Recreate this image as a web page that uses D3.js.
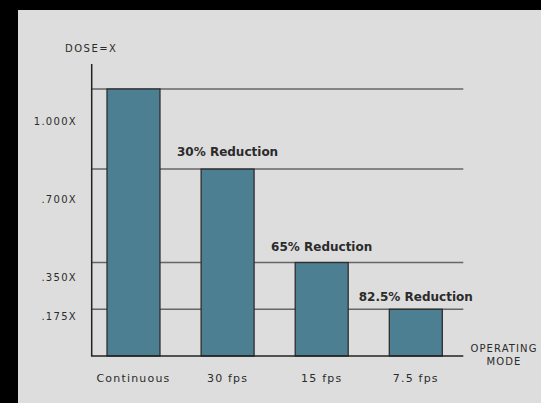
<!DOCTYPE html>
<html>
<head>
<meta charset="utf-8">
<script src="https://cdn.jsdelivr.net/npm/d3@7"></script>
<style>
  html, body { margin: 0; padding: 0; background: #000; }
  svg { display: block; }
</style>
</head>
<body>
<svg id="chart" width="541" height="403"></svg>
<script>
// ---- data ----
const categories = ["Continuous", "30 fps", "15 fps", "7.5 fps"];
const doseValues = [1.0, 0.7, 0.35, 0.175];
const reductionLabels = ["", "30% Reduction", "65% Reduction", "82.5% Reduction"];
const tickValues = [1.0, 0.7, 0.35, 0.175];
const tickLabels = ["1.000X", ".700X", ".350X", ".175X"];
const yAxisTitle = "DOSE=X";
const xAxisTitle = ["OPERATING", "MODE"];

// ---- layout ----
const W = 541, H = 403;
const svg = d3.select("#chart");
svg.append("rect").attr("x", 0).attr("y", 0).attr("width", W).attr("height", H).attr("fill", "#000");
svg.append("rect").attr("x", 18).attr("y", 10).attr("width", W - 18).attr("height", H - 10).attr("fill", "#dddddd");

const axisX = 91.7, plotRight = 463.3;
const y = d3.scaleLinear().domain([0, 1]).range([356, 89]);
const x = d3.scaleBand().domain(categories).range([107, 442.3]).paddingInner(0.437).paddingOuter(0);

const font = "'DejaVu Sans', 'Open Sans', sans-serif";
const textCol = "#2b2b2b";

// gridlines
svg.append("g").selectAll("line").data(tickValues).join("line")
  .attr("x1", axisX).attr("x2", plotRight)
  .attr("y1", d => y(d)).attr("y2", d => y(d))
  .attr("stroke", "#666").attr("stroke-width", 1.5);

// bars
svg.append("g").selectAll("rect").data(categories).join("rect")
  .attr("x", d => x(d))
  .attr("y", (d, i) => y(doseValues[i]))
  .attr("width", x.bandwidth())
  .attr("height", (d, i) => y(0) - y(doseValues[i]))
  .attr("fill", "#4d7f92")
  .attr("stroke", "#2e2e2e").attr("stroke-width", 1.3);

// axes lines
svg.append("line").attr("x1", axisX).attr("x2", axisX).attr("y1", 64).attr("y2", y(0))
  .attr("stroke", "#222").attr("stroke-width", 1.5);
svg.append("line").attr("x1", axisX - 0.75).attr("x2", plotRight).attr("y1", y(0)).attr("y2", y(0))
  .attr("stroke", "#222").attr("stroke-width", 1.5);

// y tick labels (placed below their gridlines as in original)
const tickDy = [32, 30.5, 14.5, 7];
svg.append("g").selectAll("text").data(tickLabels).join("text")
  .attr("x", 77)
  .attr("y", (d, i) => y(tickValues[i]) + tickDy[i])
  .attr("dy", "0.35em")
  .attr("text-anchor", "end")
  .attr("font-family", font).attr("font-size", 10).attr("letter-spacing", 1.3)
  .attr("fill", textCol)
  .text(d => d);

// y axis title
svg.append("text").attr("x", 65).attr("y", 48.5).attr("dy", "0.35em")
  .attr("font-family", font).attr("font-size", 10).attr("letter-spacing", 1.5)
  .attr("fill", textCol).text(yAxisTitle);

// category labels
svg.append("g").selectAll("text").data(categories).join("text")
  .attr("x", d => x(d) + x.bandwidth() / 2)
  .attr("y", 377.7).attr("dy", "0.35em")
  .attr("text-anchor", "middle")
  .attr("font-family", font).attr("font-size", 11).attr("letter-spacing", 1.2)
  .attr("fill", textCol)
  .text(d => d);

// reduction labels
const redDy = [0, 17.3, 15.3, 12.3];
svg.append("g").selectAll("text").data(reductionLabels).join("text")
  .attr("x", (d, i) => x(categories[i]) + x.bandwidth() / 2)
  .attr("y", (d, i) => y(doseValues[i]) - redDy[i])
  .attr("dy", "0.35em")
  .attr("text-anchor", "middle")
  .attr("font-family", font).attr("font-size", 12).attr("font-weight", "bold")
  .attr("fill", textCol)
  .text(d => d);

// x axis title
svg.append("g").selectAll("text").data(xAxisTitle).join("text")
  .attr("x", 504)
  .attr("y", (d, i) => 348.3 + i * 13.4)
  .attr("dy", "0.35em")
  .attr("text-anchor", "middle")
  .attr("font-family", font).attr("font-size", 10).attr("letter-spacing", 1.1)
  .attr("fill", textCol)
  .text(d => d);
</script>
</body>
</html>
